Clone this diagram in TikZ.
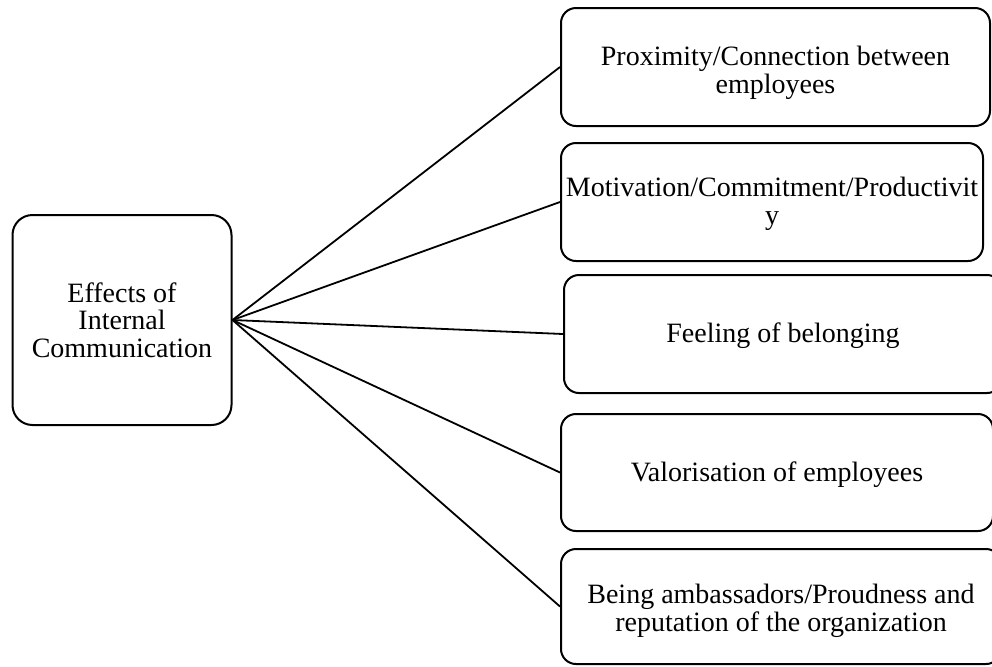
\documentclass[tikz,border=0pt]{standalone}
\usepackage{fontspec}
\setmainfont{Liberation Serif}
\newcommand{\tstrut}[1]{\rule{0pt}{#1}}
\begin{document}
\begin{tikzpicture}[x=0.5pt,y=-0.5pt,
  box/.style={draw=black,line width=1pt,rounded corners=7.5pt,inner sep=0pt,align=center,
    font=\fontsize{14}{13.8}\selectfont},
  conn/.style={draw=black,line width=0.9pt}]
\useasboundingbox (0,0) rectangle (992,666);
\node[box,rounded corners=10pt,minimum width=109.5pt,minimum height=105pt] (L) at (122,320) {Effects of\\Internal\\Communication};
\node[box,minimum width=214.5pt,minimum height=59pt] (b1) at (775.5,67) {\tstrut{15.4pt}Proximity/Connection between\\employees};
\node[box,minimum width=211pt,minimum height=59pt] (b2) at (772,202) {\tstrut{11.8pt}Motivation/Commitment/Productivit\\y};
\node[box,minimum width=219pt,minimum height=59pt] (b3) at (783,334) {\tstrut{11.8pt}Feeling of belonging};
\node[box,minimum width=216pt,minimum height=58.5pt] (b4) at (777,472.5) {\tstrut{11.8pt}Valorisation of employees};
\node[box,minimum width=220pt,minimum height=57.5pt] (b5) at (781,606.5) {\tstrut{13.8pt}Being ambassadors/Proudness and\\reputation of the organization};
\foreach \b in {b1,b2,b3,b4,b5}{\draw[conn] (L.east) -- (\b.west);}
\end{tikzpicture}
\end{document}
